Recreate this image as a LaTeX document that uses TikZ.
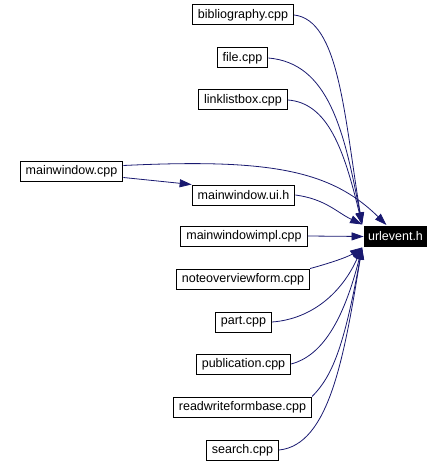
\documentclass[tikz,border=0pt]{standalone}
\usepackage{fontspec}
\setmainfont{Liberation Sans}
\usepackage{tikz}
\usetikzlibrary{arrows.meta,calc,positioning}
\definecolor{midnightblue}{RGB}{25,25,112}
\tikzset{
  archivo/.style={
    draw=black,
    line width=1pt,
    fill=white,
    align=center,
    minimum height=20pt,
    inner xsep=5.5pt,
    inner ysep=0pt,
    font=\fontsize{12.5}{14}\selectfont
  },
  destino/.style={
    archivo,
    fill=black,
    text=white,
    inner xsep=4pt
  },
  arrow/.style={
    -{Triangle[length=12pt,width=8pt]},
    line width=0.8pt,
    midnightblue
  }
}
\begin{document}
\begin{tikzpicture}[x=1pt,y=-1pt]
\useasboundingbox (0,0) rectangle (444,465);
\node[archivo] (bib) at (243,15) {bibliography.cpp};
\node[archivo] (fil) at (242.5,58) {file.cpp};
\node[archivo] (lnk) at (243,100) {linklistbox.cpp};
\node[archivo] (mw) at (71.5,171.5) {mainwindow.cpp};
\node[archivo] (ui) at (243.5,195) {mainwindow.ui.h};
\node[archivo] (mwi) at (244,236) {mainwindowimpl.cpp};
\node[archivo] (nof) at (243,279) {noteoverviewform.cpp};
\node[archivo] (prt) at (243.5,322) {part.cpp};
\node[archivo] (pub) at (243.5,364) {publication.cpp};
\node[archivo] (rwf) at (242.5,407) {readwriteformbase.cpp};
\node[archivo] (src) at (242.5,450) {search.cpp};
\node[destino] (url) at (395.5,236.5) {urlevent.h};
\coordinate (tipA) at ($(url.north west)+(-1.5,-1.5)$);
\coordinate (tipB) at ($(url.south west)+(-1.5,0.5)$);
\coordinate (tipC) at ($(url.north)+(-9,-1)$);
\draw[arrow] (bib.east) .. controls +(45,5) and +(-18,-110) .. (tipA);
\draw[arrow] (fil.east) .. controls +(60,5) and +(-18,-95) .. (tipA);
\draw[arrow] (lnk.east) .. controls +(40,3) and +(-18,-75) .. (tipA);
\draw[arrow] (ui.east) .. controls +(30,4) and +(-25,-12) .. (tipA);
\draw[arrow] ($(mw.east)+(0,-6)$) .. controls +(146,-7) and +(-56,-55) .. (tipC);
\draw[arrow] ($(mw.east)+(0,6)$) -- (ui.north west);
\draw[arrow] (mwi.east) -- (url.west);
\draw[arrow] (nof.north east) .. controls +(15,-4) and +(-15,10) .. (tipB);
\draw[arrow] (prt.east) .. controls +(40,-3) and +(-20,45) .. (tipB);
\draw[arrow] (pub.east) .. controls +(30,-8) and +(-19,75) .. (tipB);
\draw[arrow] (rwf.north east) .. controls +(20,-20) and +(-18,100) .. (tipB);
\draw[arrow] (src.east) .. controls +(50,-5) and +(-18,110) .. (tipB);
\end{tikzpicture}
\end{document}
